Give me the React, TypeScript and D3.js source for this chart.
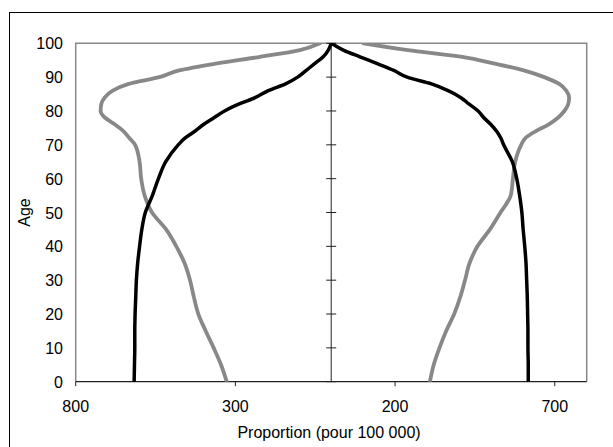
import React from "react";
import * as d3 from "d3";

const ages = [0, 5, 10, 15, 20, 25, 30, 35, 40, 45, 50, 55, 60, 65, 70, 72, 74, 76, 78, 80, 82, 84, 86, 88, 90, 92, 94, 96, 98, 100];

// Left side (hommes) – magnitudes, drawn as negative values
const grayLeft = [327, 345, 368, 393, 416, 430, 442, 459, 485, 517, 561, 584, 595, 600, 614, 632, 650, 677, 708, 722, 720, 709, 684, 634, 538, 476, 362, 223, 98, 35];
const blackLeft = [617, 616, 615, 615, 614, 612, 610, 606, 600, 593, 582, 560, 541, 518, 479, 458, 427, 400, 367, 334, 290, 237, 197, 143, 105, 78, 52, 25, 9, 0];

// Right side (femmes)
const grayRight = [309, 321, 339, 360, 385, 404, 419, 433, 458, 497, 530, 562, 569, 576, 595, 608, 640, 680, 710, 730, 742, 745, 736, 714, 667, 603, 512, 410, 240, 101];
const blackRight = [617, 617, 616, 616, 615, 614, 612, 610, 606, 601, 597, 590, 581, 567, 540, 531, 518, 500, 478, 460, 432, 405, 366, 314, 238, 196, 144, 90, 38, 0];

const xTicks = [-800, -300, 200, 700];
const yTicks = [0, 10, 20, 30, 40, 50, 60, 70, 80, 90, 100];

const xTitle = "Proportion (pour 100 000)";
const yTitle = "Age";

const W = 613;
const H = 447;
const left = 75.7;
const right = 586.7;
const top = 43.3;
const bottom = 381.7;
const FONT = "'Liberation Sans', Arial, sans-serif";
const GRAY = "#888888";

export default function App() {
  const x = d3.scaleLinear().domain([-800, 800]).range([left, right]);
  const y = d3.scaleLinear().domain([0, 100]).range([bottom, top]);
  const x0 = x(0);

  const mk = (vals: number[], sign: number) =>
    d3
      .line<number>()
      .x((v) => x(sign * v))
      .y((_, i) => y(ages[i]))
      .curve(d3.curveMonotoneY)(vals) as string;

  return (
    <svg
      width={W}
      height={H}
      style={{ position: "absolute", left: 0, top: 0, background: "#fff" }}
    >
      <rect x={0} y={0} width={W} height={H} fill="#fff" />
      <rect x={9.5} y={12.5} width={700} height={600} fill="none" stroke="#000" strokeWidth={1} />
      <defs>
        <clipPath id="plot">
          <rect x={left} y={top} width={right - left} height={bottom - top} />
        </clipPath>
      </defs>
      {/* plot area border */}
      <path
        d={`M${left},${bottom}V${top}H${right}V${bottom}`}
        fill="none"
        stroke={GRAY}
        strokeWidth={1.5}
      />
      {/* center y axis */}
      <line x1={x0} x2={x0} y1={top} y2={bottom} stroke="#222" strokeWidth={1} />
      {yTicks.map((t) => (
        <line key={"yt" + t} x1={x0 - 5} x2={x0 + 5} y1={y(t)} y2={y(t)} stroke="#222" strokeWidth={1} />
      ))}
      {/* x axis */}
      <line x1={left} x2={right} y1={bottom} y2={bottom} stroke="#222" strokeWidth={1.2} />
      {xTicks.map((t) => (
        <line key={"xt" + t} x1={x(t)} x2={x(t)} y1={bottom} y2={bottom + 4.5} stroke="#222" strokeWidth={1} />
      ))}
      <g clipPath="url(#plot)" fill="none" strokeLinejoin="round" strokeLinecap="round">
        <path d={mk(grayLeft, -1)} stroke={GRAY} strokeWidth={3.8} />
        <path d={mk(grayRight, 1)} stroke={GRAY} strokeWidth={3.8} />
        <path d={mk(blackLeft, -1)} stroke="#000" strokeWidth={3.5} />
        <path d={mk(blackRight, 1)} stroke="#000" strokeWidth={3.5} />
      </g>
      {/* y tick labels */}
      {yTicks.map((t) => (
        <text
          key={"yl" + t}
          x={63}
          y={y(t) + 6}
          textAnchor="end"
          fontFamily={FONT}
          fontSize={16}
          fill="#000"
        >
          {t}
        </text>
      ))}
      {/* x tick labels (absolute values) */}
      {xTicks.map((t) => (
        <text
          key={"xl" + t}
          x={x(t)}
          y={412.3}
          textAnchor="middle"
          fontFamily={FONT}
          fontSize={16}
          fill="#000"
        >
          {Math.abs(t)}
        </text>
      ))}
      <text x={329} y={437.7} textAnchor="middle" fontFamily={FONT} fontSize={16} fill="#000">
        {xTitle}
      </text>
      <text
        transform={`translate(30,${(top + bottom) / 2}) rotate(-90)`}
        textAnchor="middle"
        fontFamily={FONT}
        fontSize={16}
        fill="#000"
      >
        {yTitle}
      </text>
    </svg>
  );
}
